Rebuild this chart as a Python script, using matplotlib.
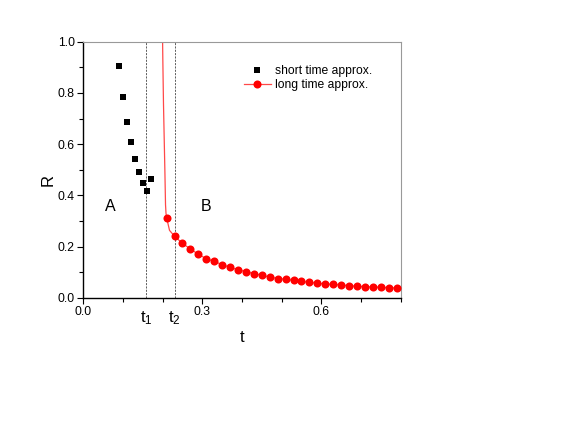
"""
Short-time vs long-time approximation of R(t)
"""
import matplotlib
matplotlib.use('Agg')
import matplotlib.pyplot as plt
from matplotlib.ticker import MultipleLocator
from matplotlib.lines import Line2D

plt.rcParams['font.family'] = ['Liberation Sans', 'DejaVu Sans']

# short time approximation (black squares)
t_short = [0.09, 0.10, 0.11, 0.12, 0.13, 0.14, 0.15, 0.16, 0.17]
R_short = [0.906, 0.783, 0.685, 0.607, 0.543, 0.490, 0.447, 0.417, 0.464]

# long time approximation (red circles)
t_long = [0.21, 0.23, 0.25, 0.27, 0.29, 0.31, 0.33, 0.35, 0.37, 0.39,
          0.41, 0.43, 0.45, 0.47, 0.49, 0.51, 0.53, 0.55, 0.57, 0.59,
          0.61, 0.63, 0.65, 0.67, 0.69, 0.71, 0.73, 0.75, 0.77, 0.79]
R_long = [0.3125, 0.240, 0.2125, 0.190, 0.170, 0.152, 0.142, 0.129, 0.119, 0.109,
          0.102, 0.094, 0.0875, 0.081, 0.075, 0.072, 0.068, 0.064, 0.060, 0.057,
          0.0535, 0.052, 0.0496, 0.047, 0.0445, 0.043, 0.042, 0.0406, 0.039, 0.038]

# steep part of the long time curve (line only)
t_steep = [0.1995, 0.2005, 0.2022, 0.2040, 0.2057, 0.2073, 0.2085]
R_steep = [1.05, 0.93, 0.754, 0.62, 0.494, 0.363, 0.33]
t_bend = [0.2174]
R_bend = [0.263]

# boundaries between regions
t1 = 0.1585
t2 = 0.230

fig = plt.figure(figsize=(5.82, 4.47), dpi=100)
ax = fig.add_axes([0.1431, 0.334, 0.5453, 0.5727])

line_t = t_steep + t_long[:1] + t_bend + t_long[1:]
line_R = R_steep + R_long[:1] + R_bend + R_long[1:]
ax.plot(line_t, line_R, color='#ff4848', linewidth=0.9, zorder=2)
ax.plot(t_long, R_long, linestyle='none', marker='o', markersize=5.8,
        color='red', markeredgewidth=0, zorder=3)
ax.plot(t_short, R_short, linestyle='none', marker='s', markersize=4.4,
        color='black', markeredgewidth=0, zorder=3)

# dashed region boundaries
ax.axvline(t1, color='#444444', linestyle=(0, (2.5, 1.5)), linewidth=0.6, zorder=1)
ax.axvline(t2, color='#444444', linestyle=(0, (2.5, 1.5)), linewidth=0.6, zorder=1)

ax.set_xlim(0, 0.8)
ax.set_ylim(0, 1.0)
ax.xaxis.set_major_locator(MultipleLocator(0.3))
ax.xaxis.set_minor_locator(MultipleLocator(0.1))
ax.yaxis.set_major_locator(MultipleLocator(0.2))
ax.yaxis.set_minor_locator(MultipleLocator(0.1))
ax.xaxis.set_major_formatter(plt.FuncFormatter(lambda v, p: f'{v:.1f}'))
ax.yaxis.set_major_formatter(plt.FuncFormatter(lambda v, p: f'{v:.1f}'))
ax.tick_params(which='major', direction='out', length=4, width=0.8, labelsize=8.7, pad=2)
ax.tick_params(which='minor', direction='out', length=3, width=0.8)
ax.tick_params(top=False, right=False)

for side in ['top', 'right']:
    ax.spines[side].set_color('#999999')
    ax.spines[side].set_linewidth(0.8)
for side in ['bottom', 'left']:
    ax.spines[side].set_linewidth(1.0)

ax.set_xlabel('t', fontsize=12)
ax.set_ylabel('R', fontsize=12)
ax.xaxis.set_label_coords(0.5, -0.125)
ax.yaxis.set_label_coords(-0.088, 0.46)

# subscripted boundary labels below the axis
ax.text(t1, -0.078, r'$\mathregular{t_1}$', fontsize=12, ha='center', va='center',
        transform=ax.get_xaxis_transform())
ax.text(t2, -0.078, r'$\mathregular{t_2}$', fontsize=12, ha='center', va='center',
        transform=ax.get_xaxis_transform())

# region labels
ax.text(0.068, 0.355, 'A', fontsize=11.5, ha='center', va='center')
ax.text(0.31, 0.355, 'B', fontsize=11.5, ha='center', va='center')

handles = [
    Line2D([], [], linestyle='none', marker='s', markersize=4.4, color='black',
           markeredgewidth=0),
    Line2D([], [], color='#ff4848', linewidth=0.9, marker='o', markersize=5.8,
           markerfacecolor='red', markeredgewidth=0),
]
ax.legend(handles, ['short time approx.', 'long time approx.'],
          loc='upper left', bbox_to_anchor=(0.505, 0.909), frameon=False,
          fontsize=8.7, handlelength=2.25, handletextpad=0.35, labelspacing=0.2,
          borderaxespad=0, borderpad=0)

fig.savefig('out.png', dpi=100)
